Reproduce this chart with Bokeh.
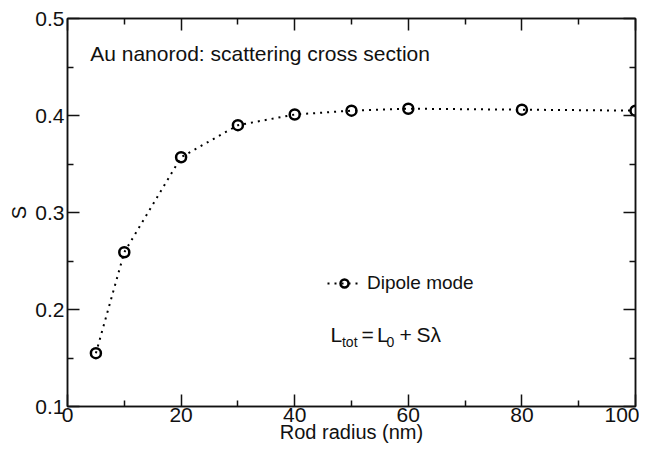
from bokeh.plotting import figure
from bokeh.models import (LinearAxis, FixedTicker, Range1d, Label, Legend, LegendItem,
                          ColumnDataSource, CustomLabelingPolicy)
from bokeh.embed import file_html
from bokeh.resources import INLINE

# ---- data ----
radius = [5, 10, 20, 30, 40, 50, 60, 80, 100]
s_dipole = [0.155, 0.259, 0.357, 0.390, 0.401, 0.405, 0.407, 0.406, 0.405]
x_major = [0, 20, 40, 60, 80, 100]
x_minor = [10, 30, 50, 70, 90]
y_major = [0.1, 0.2, 0.3, 0.4, 0.5]
y_minor = [0.15, 0.25, 0.35, 0.45]
title_text = "Au nanorod: scattering cross section"
legend_text = "Dipole mode"

FONT = "Liberation Sans"
INK = "#111111"

p = figure(width=639, height=450, output_backend="svg", toolbar_location=None,
           x_range=Range1d(0, 100), y_range=Range1d(0.1, 0.5),
           x_axis_location=None, y_axis_location=None,
           min_border_left=67, min_border_right=4, min_border_top=18, min_border_bottom=44)
p.grid.visible = False
p.outline_line_color = INK
p.outline_line_width = 1.5
p.background_fill_color = "white"
p.border_fill_color = "white"

xt = FixedTicker(ticks=x_major, minor_ticks=x_minor)
yt = FixedTicker(ticks=y_major, minor_ticks=y_minor)

no_labels = CustomLabelingPolicy(code="return new Set()")


def style(ax, labels=True):
    ax.axis_line_color = INK
    ax.axis_line_width = 1.5
    ax.major_tick_line_color = INK
    ax.major_tick_line_width = 1.5
    ax.minor_tick_line_color = INK
    ax.minor_tick_line_width = 1.5
    ax.major_tick_in = 12
    ax.major_tick_out = 0
    ax.minor_tick_in = 6
    ax.minor_tick_out = 0
    ax.major_label_text_font = FONT
    ax.major_label_text_color = INK
    ax.axis_label_text_font = FONT
    ax.axis_label_text_font_style = "normal"
    ax.axis_label_text_color = INK
    if labels:
        ax.major_label_text_font_size = "21px"
        ax.axis_label_text_font_size = "20px"
    else:
        ax.major_label_text_font_size = "1px"
        ax.major_label_standoff = 0
        ax.major_label_policy = no_labels


xb = LinearAxis(ticker=xt, axis_label="Rod radius (nm)")
style(xb)
xb.major_label_standoff = 1
xb.axis_label_standoff = -4
p.add_layout(xb, "below")

yl = LinearAxis(ticker=yt, axis_label="S")
style(yl)
yl.major_label_standoff = 3
yl.axis_label_standoff = 2
p.add_layout(yl, "left")

xa = LinearAxis(ticker=xt)
style(xa, labels=False)
p.add_layout(xa, "above")

yr = LinearAxis(ticker=yt)
style(yr, labels=False)
p.add_layout(yr, "right")

src = ColumnDataSource(dict(x=radius, y=s_dipole))
ln = p.line("x", "y", source=src, line_color="black", line_width=2, line_dash="2 5")
sc = p.scatter("x", "y", source=src, marker="circle", size=10, line_color="black",
               line_width=2.5, fill_alpha=0)

legend = Legend(items=[LegendItem(label=legend_text, renderers=[ln, sc])],
                location=(260, 112), padding=0, margin=0, spacing=0,
                glyph_width=34, glyph_height=20, label_standoff=6,
                label_text_font=FONT, label_text_font_size="19px",
                label_text_color=INK, border_line_color=None,
                background_fill_alpha=0)
p.add_layout(legend, "center")

p.add_layout(Label(x=4.0, y=0.4638, text=title_text, text_font=FONT,
                   text_font_size="21px", text_color=INK, text_baseline="alphabetic"))

# formula L_tot = L_0 + S lambda
fx, fy = 46.3, 0.1741
pieces = [("L", 0, 0, "21px"), ("tot", 11.5, -7, "14px"), ("=", 31, 0, "21px"),
          ("L", 46.4, 0, "21px"), ("0", 56, -7, "14px"), ("+", 69, 0, "21px"),
          ("S\u03bb", 86, 0, "21px")]
for t, dx, dy, fs in pieces:
    p.add_layout(Label(x=fx, y=fy, x_offset=dx, y_offset=dy, text=t, text_font=FONT,
                       text_font_size=fs, text_color=INK, text_baseline="alphabetic"))

open("out.html", "w").write(file_html(p, INLINE))
